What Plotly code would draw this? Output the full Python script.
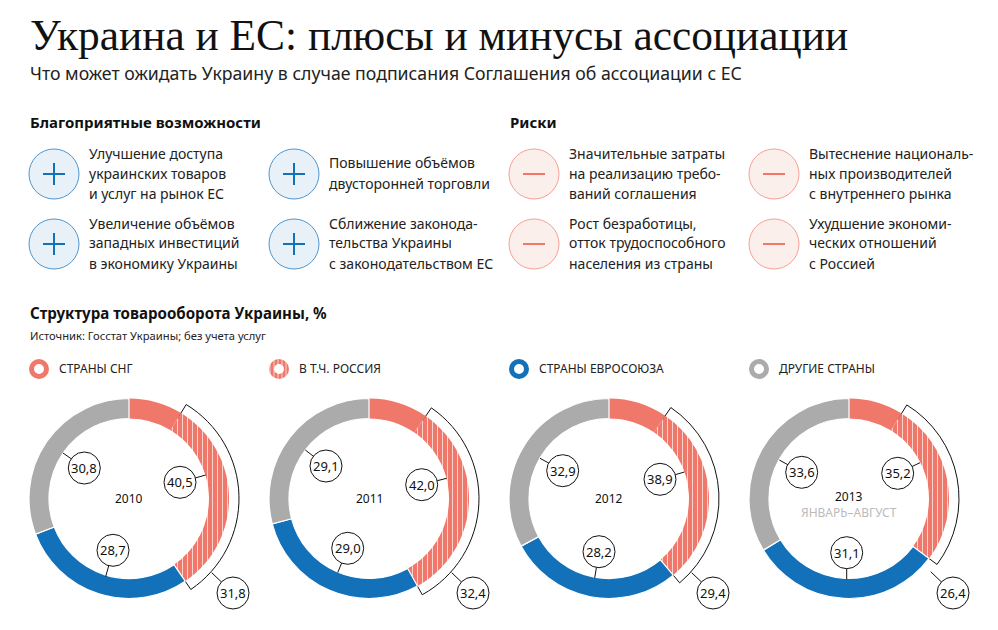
import plotly.graph_objects as go

W, H = 998, 630

# turnover structure, %
years = ['2010', '2011', '2012', '2013']
cis = [40.5, 42.0, 38.9, 35.2]
russia = [31.8, 32.4, 29.4, 26.4]
eu = [28.7, 29.0, 28.2, 31.1]
other = [30.8, 29.1, 32.9, 33.6]

legend_labels = ['СТРАНЫ СНГ', 'В Т.Ч. РОССИЯ', 'СТРАНЫ ЕВРОСОЮЗА', 'ДРУГИЕ СТРАНЫ']

good_titles = [
    ['Улучшение доступа', 'украинских товаров', 'и услуг на рынок ЕС'],
    ['Повышение объёмов', 'двусторонней торговли'],
    ['Увеличение объёмов', 'западных инвестиций', 'в экономику Украины'],
    ['Сближение законода-', 'тельства Украины', 'с законодательством ЕС'],
]
risk_titles = [
    ['Значительные затраты', 'на реализацию требо-', 'ваний соглашения'],
    ['Вытеснение националь-', 'ных производителей', 'с внутреннего рынка'],
    ['Рост безработицы,', 'отток трудоспособного', 'населения из страны'],
    ['Ухудшение экономи-', 'ческих отношений', 'с Россией'],
]

RED = '#F0786A'
BLUE = '#1271B9'
GREY = '#ABABAB'
SANS = 'Noto Sans'

centers = [129, 369, 609, 849]
CY = 498.5

# bubble centre and where its leader line ends, per year: cis, russia, eu, other
bubbles = [
    [(180, 482.3, 205.7, 475), (233, 593, 211.7, 572.7), (113, 550.3, 105.7, 576.7), (84.3, 468, 63, 453)],
    [(421.7, 484.7, 446.7, 478.3), (473, 593, 451.7, 572.7), (347.7, 548.3, 337.7, 572.7), (326, 466, 305.3, 450)],
    [(660, 479.3, 684.3, 472), (713, 593, 691.7, 572.7), (599, 551.7, 594.7, 578), (562.7, 470.7, 540, 458.3)],
    [(897.7, 473.3, 920, 462.7), (953, 593, 930.7, 571.7), (846.7, 552.7, 846.7, 579.3), (801.7, 472.3, 779.3, 460)],
]


def px(x):
    return x / W


def py(y):
    return 1 - y / H


def domain(cx, cy, r):
    return dict(x=[px(cx - r), px(cx + r)], y=[py(cy + r), py(cy - r)])


def text(x, y, s, size=15, color='#111111', family=SANS, anchor='left', bold=False):
    if bold:
        s = '<b>' + s + '</b>'
    fig.add_annotation(x=px(x), y=py(y), xref='paper', yref='paper', text=s, showarrow=False,
                       xanchor=anchor, yanchor='middle', align=anchor, borderpad=0,
                       font=dict(size=size, color=color, family=family))


def circle(cx, cy, r, fill, line, width=1):
    fig.add_shape(type='circle', xref='paper', yref='paper', x0=px(cx - r), x1=px(cx + r),
                  y0=py(cy + r), y1=py(cy - r), fillcolor=fill, line=dict(color=line, width=width))


def line(x0, y0, x1, y1, color='#111111', width=1):
    fig.add_shape(type='line', xref='paper', yref='paper', x0=px(x0), x1=px(x1),
                  y0=py(y0), y1=py(y1), line=dict(color=color, width=width))


fig = go.Figure()

for i, year in enumerate(years):
    values = [round(cis[i] - russia[i], 1), russia[i], eu[i], other[i]]
    # bracket around the Russia slice sits under the ring
    fig.add_trace(go.Pie(values=values, domain=domain(centers[i], CY, 110), hole=0.85, sort=False,
                         direction='clockwise', textinfo='none', hoverinfo='skip', showlegend=False,
                         marker=dict(colors=['rgba(0,0,0,0)', 'white', 'rgba(0,0,0,0)', 'rgba(0,0,0,0)'],
                                     line=dict(color='#111111', width=[0, 1, 0, 0]))))
    fig.add_trace(go.Pie(values=values, domain=domain(centers[i], CY, 100), hole=0.8, sort=False,
                         direction='clockwise', textinfo='none', hoverinfo='label+value', showlegend=False,
                         labels=['СНГ без России', 'Россия', 'Евросоюз', 'Другие страны'],
                         marker=dict(colors=[RED, RED, BLUE, GREY],
                                     line=dict(color='white', width=[0, 0, 1.2, 1.2]),
                                     pattern=dict(shape=['', '|', '', ''], size=5, solidity=0.2,
                                                  bgcolor=RED, fgcolor='#FBD3CD', fillmode='replace'))))

    for (bx, by, lx, ly), val in zip(bubbles[i], [cis[i], russia[i], eu[i], other[i]]):
        line(bx, by, lx, ly)
        circle(bx, by, 16, 'white', '#111111', 1)
        text(bx, by, f'{val:.1f}'.replace('.', ','), size=13, anchor='center')
    if year != '2013':
        text(centers[i], CY, year, size=12, anchor='center')

text(849, 504.5, "2013<br><span style='color:#BBBBBB'>ЯНВАРЬ–АВГУСТ</span>", size=12, anchor='center')

# legend rings
legend_x = [39, 279, 519, 759]
legend_colors = [RED, RED, BLUE, GREY]
for i, label in enumerate(legend_labels):
    fig.add_trace(go.Pie(values=[1], domain=domain(legend_x[i], 369, 10), hole=0.5, sort=False, textinfo='none',
                         hoverinfo='skip', showlegend=False,
                         marker=dict(colors=[legend_colors[i]], line=dict(width=0),
                                     pattern=dict(shape='|' if i == 1 else '', size=4, solidity=0.25,
                                                  bgcolor=legend_colors[i], fgcolor='#FBD3CD', fillmode='replace'))))
    text(legend_x[i] + 19, 368.5, label, size=12, color='#222222')

text(29, 35, 'Украина и ЕС: плюсы и минусы ассоциации', size=43.4, color='#111111', family='Liberation Serif')
text(29, 72.5, 'Что может ожидать Украину в случае подписания Соглашения об ассоциации с ЕС', size=17.7, color='#222222')

text(29, 122.5, 'Благоприятные возможности', size=15, bold=True)
text(509, 122.5, 'Риски', size=15, bold=True)
text(29, 312.5, 'Структура товарооборота Украины, %', size=15.1, bold=True)
text(29, 335, 'Источник: Госстат Украины; без учета услуг', size=11.2, color='#222222')

# list items: circle icons and their captions
item_x = [54, 294, 54, 294]
item_y = [174, 174, 244, 244]
for titles, dx, plus in [(good_titles, 0, True), (risk_titles, 480, False)]:
    for k, lines in enumerate(titles):
        cx, cy = item_x[k] + dx, item_y[k]
        if plus:
            circle(cx, cy, 25, '#E8F1F8', '#4F96D0')
            line(cx - 11, cy, cx + 11, cy, BLUE, 2)
            line(cx, cy - 11, cx, cy + 11, BLUE, 2)
        else:
            circle(cx, cy, 25, '#FBEFEC', '#F7A093')
            line(cx - 11, cy, cx + 11, cy, RED, 2)
        top = cy - 10 * (len(lines) - 1) - 1
        for n, s in enumerate(lines):
            text(cx + 34, top + 20 * n, s, size=14, color='#222222')

fig.update_layout(width=W, height=H, margin=dict(l=0, r=0, t=0, b=0), paper_bgcolor='white',
                  plot_bgcolor='white')

fig.write_html("out.html", post_script="document.body.style.margin='0';", config=dict(displayModeBar=False))
